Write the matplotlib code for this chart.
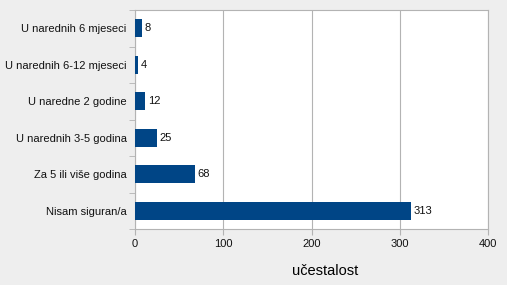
import numpy as np
import matplotlib.pyplot as plt
from matplotlib.ticker import FixedLocator

categories = ['U narednih 6 mjeseci', 'U narednih 6-12 mjeseci', 'U naredne 2 godine',
              'U narednih 3-5 godina', 'Za 5 ili više godina', 'Nisam siguran/a']
values = [8, 4, 12, 25, 68, 313]

plt.rcParams['font.family'] = ['Liberation Sans', 'DejaVu Sans']

bg = '#eeeeee'
axcol = '#b3b3b3'
fig = plt.figure(figsize=(5.07, 2.85), dpi=100, facecolor=bg)
ax = fig.add_axes([0.266, 0.196, 0.697, 0.769])
ax.set_facecolor('white')

y = np.arange(len(categories))
ax.barh(y, values, height=0.5, color='#004586', zorder=3)
for yi, v in zip(y, values):
    ax.text(v + 3, yi, str(v), va='center', ha='left', fontsize=8, color='#111111', zorder=4)

ax.set_xlim(0, 400)
ax.set_ylim(len(categories) - 0.5, -0.5)
ax.set_xticks([0, 100, 200, 300, 400])
ax.set_yticks(y)
ax.set_yticklabels(categories, color='#111111')
ax.yaxis.set_minor_locator(FixedLocator(np.arange(-0.5, len(categories), 1)))
ax.tick_params(axis='y', which='major', length=0, pad=6, labelsize=8)
ax.tick_params(axis='y', which='minor', length=4, color=axcol)
ax.tick_params(axis='x', length=4, color=axcol, labelsize=8, pad=3, labelcolor='#111111')
ax.grid(axis='x', color=axcol, linewidth=0.8, zorder=0)
for s in ax.spines.values():
    s.set_color(axcol)
    s.set_linewidth(0.8)

ax.set_xlabel('učestalost', fontsize=10.5)
ax.xaxis.set_label_coords(0.538, -0.16)

fig.savefig('out.png', dpi=100, facecolor=bg)
